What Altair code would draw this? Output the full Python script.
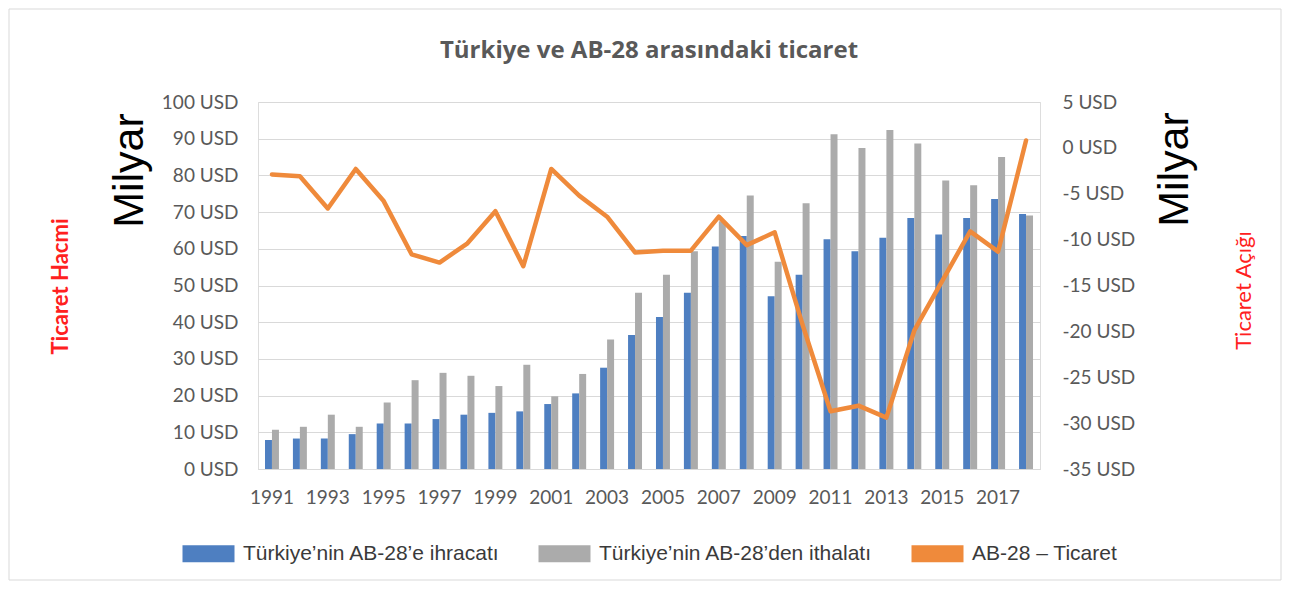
import altair as alt
import pandas as pd

years = [str(y) for y in range(1991, 2019)]
exports = [7.9, 8.3, 8.3, 9.5, 12.4, 12.4, 13.6, 14.8, 15.3, 15.7, 17.7, 20.6, 27.6, 36.5,
           41.4, 48.0, 60.6, 63.5, 47.1, 52.9, 62.6, 59.3, 63.0, 68.4, 63.9, 68.4, 73.6, 69.5]
imports = [10.7, 11.5, 14.8, 11.5, 18.1, 24.2, 26.2, 25.4, 22.6, 28.4, 19.8, 25.9, 35.3, 48.0,
           52.9, 59.3, 67.5, 74.5, 56.5, 72.4, 91.2, 87.5, 92.4, 88.7, 78.6, 77.3, 85.0, 69.1]
balance = [-2.9, -3.1, -6.6, -2.3, -5.8, -11.6, -12.5, -10.4, -6.9, -12.9, -2.3, -5.2, -7.5, -11.4,
           -11.2, -11.2, -7.5, -10.6, -9.2, -19.3, -28.7, -28.1, -29.4, -19.9, -14.5, -9.1, -11.3, 0.8]

s_exp = "Türkiye’nin AB-28’e ihracatı"
s_imp = "Türkiye’nin AB-28’den ithalatı"
s_bal = "AB-28 – Ticaret"
series_names = [s_exp, s_imp, s_bal]
series_colors = ["#4E7FC1", "#ABABAB", "#EF8A3B"]

left_ticks = list(range(0, 101, 10))
right_ticks = list(range(-35, 6, 5))

bars_df = pd.DataFrame(
    [{"year": y, "series": s_exp, "value": v} for y, v in zip(years, exports)]
    + [{"year": y, "series": s_imp, "value": v} for y, v in zip(years, imports)]
)
line_df = pd.DataFrame({"year": years, "balance": balance})

GRID = "#D9D9D9"
LABEL = "#595959"

x_axis = alt.Axis(
    title=None, labelAngle=0, ticks=False, domain=True, domainColor=GRID,
    labelExpr="toNumber(datum.value) % 2 == 1 ? datum.label : ''",
    labelFont="Lato", labelFontSize=19, labelColor=LABEL, labelPadding=19, grid=False,
)
x_enc = alt.X("year:O", axis=x_axis, scale=alt.Scale(paddingInner=0.5, paddingOuter=0.25))

bars = alt.Chart(bars_df).mark_bar().encode(
    x=x_enc,
    xOffset=alt.XOffset("series:N", scale=alt.Scale(domain=[s_exp, s_imp])),
    y=alt.Y("value:Q", scale=alt.Scale(domain=[0, 100], nice=False),
            axis=alt.Axis(orient="left", values=left_ticks, labelExpr="datum.value + ' USD'",
                          grid=True, gridColor=GRID, ticks=False, domain=False,
                          labelFont="Lato", labelFontSize=19, labelColor=LABEL, labelPadding=20,
                          title="Milyar", titleFont="Liberation Sans", titleFontSize=43,
                          titleFontWeight="normal", titleColor="#000000", titleAngle=270,
                          titleAlign="center", titleBaseline="alphabetic", titleX=-116, titleY=68)),
    color=alt.Color("series:N", scale=alt.Scale(domain=series_names, range=series_colors),
                    legend=alt.Legend(
                        title=None, orient="none", legendX=-76, legendY=441, direction="horizontal",
                        columns=3, symbolType="M-1,-0.85H4.2V0.85H-1Z", symbolSize=400,
                        symbolStrokeWidth=0, labelFont="Liberation Sans", labelFontSize=21,
                        labelColor="#3A3A3A", labelLimit=600, labelOffset=40, columnPadding=38)),
)

line = alt.Chart(line_df).mark_line(color="#EF8A3B", strokeWidth=4.5, strokeJoin="round", strokeCap="round").encode(
    x=x_enc,
    y=alt.Y("balance:Q", scale=alt.Scale(domain=[-35, 5], nice=False),
            axis=alt.Axis(orient="right", values=right_ticks, labelExpr="datum.value + ' USD'",
                          grid=False, ticks=False, domain=False,
                          labelFont="Lato", labelFontSize=19, labelColor=LABEL, labelPadding=22,
                          title="Milyar", titleFont="Liberation Sans", titleFontSize=43,
                          titleFontWeight="normal", titleColor="#000000", titleAngle=270,
                          titleAlign="center", titleBaseline="alphabetic", titleX=147, titleY=67)),
)

ghost_left = alt.Chart(line_df).mark_point(opacity=0).encode(
    x=x_enc,
    y=alt.Y("balance:Q", axis=alt.Axis(orient="left", labels=False, ticks=False, domain=False, grid=False,
                                       title="Ticaret Hacmi", titleFont="Lato", titleFontSize=22,
                                       titleFontWeight="bold", titleColor="#FF2020", titleAngle=270,
                                       titleAlign="center", titleBaseline="alphabetic",
                                       titleX=-191, titleY=184)),
)

ghost_right = alt.Chart(line_df).mark_point(opacity=0).encode(
    x=x_enc,
    y=alt.Y("balance:Q", axis=alt.Axis(orient="right", labels=False, ticks=False, domain=False, grid=False,
                                       title="Ticaret Açığı", titleFont="Lato", titleFontSize=22,
                                       titleFontWeight="normal", titleColor="#FF2020", titleAngle=270,
                                       titleAlign="center", titleBaseline="alphabetic",
                                       titleX=210, titleY=188)),
)

frame = alt.Chart(pd.DataFrame({"k": [0]})).mark_rect(fillOpacity=0, stroke=GRID, strokeWidth=1).encode(
    x=alt.value(-249), x2=alt.value(1023), y=alt.value(-93), y2=alt.value(478)
)

chart = alt.layer(frame, bars, line, ghost_left, ghost_right).resolve_scale(
    y="independent"
).properties(
    width=782, height=367,
    title=alt.TitleParams("Türkiye ve AB-28 arasındaki ticaret", font="Open Sans", fontSize=24,
                          fontWeight="bold", color=LABEL, anchor="middle", frame="group", offset=-54),
    autosize=alt.AutoSizeParams(type="none"),
    padding={"left": 250, "top": 94, "right": 242, "bottom": 112},
).configure_view(stroke=None).configure(font="Lato")

chart.save("out.html", embed_options={"renderer": "svg", "actions": False})
